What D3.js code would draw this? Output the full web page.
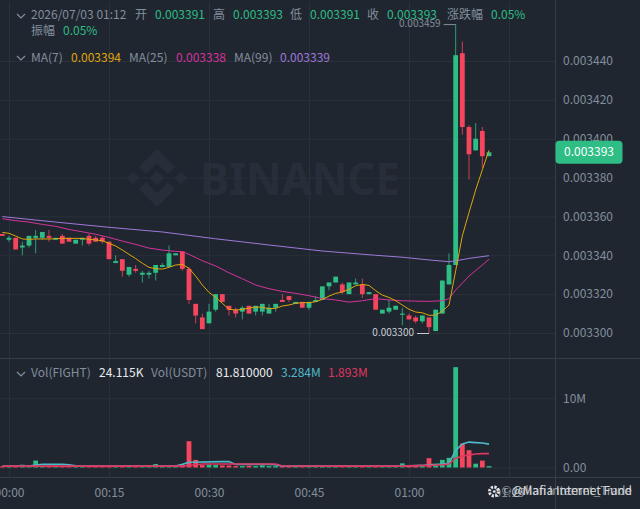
<!DOCTYPE html>
<html>
<head>
<meta charset="utf-8">
<script src="https://cdn.jsdelivr.net/npm/d3@7"></script>
<style>
  html, body { margin: 0; padding: 0; background: #1f2630; overflow: hidden; }
  svg { display: block; }
  text { font-family: "Noto Sans CJK SC", "Noto Sans", sans-serif; font-size: 12px; }
</style>
</head>
<body>
<div class="canvas"></div>
<script>
// one-minute candles, prices in millionths (3391 = 0.003391), first candle is 23:59
const open = [3351,3348,3349,3344,3345,3349,3349,3350,3348,3350,3349,3346,3348,3350,3349,3349,3347,3336,3338,3330,3333,3330,3330,3331,3334,3334,3340,3342,3333,3315,3308,3305,3312,3320,3314,3312,3311,3314,3311,3311,3310,3313,3317,3319,3315,3316,3313,3316,3317,3324,3326,3325,3320,3325,3325,3320,3320,3310,3311,3312,3310,3309,3308,3306,3308,3301,3310,3325,3335,3444,3406,3394,3404,3391];
const close = [3350,3349,3343,3345,3350,3350,3352,3349,3349,3346,3347,3348,3349,3346,3347,3347,3338,3337,3332,3334,3332,3331,3331,3335,3335,3341,3341,3333,3317,3309,3302,3311,3320,3316,3312,3310,3313,3310,3314,3315,3313,3315,3316,3317,3316,3313,3316,3317,3324,3326,3329,3321,3326,3326,3320,3321,3312,3312,3313,3314,3310,3307,3306,3309,3303,3312,3327,3335,3443,3406,3392,3400,3391,3393];
const high = [3351,3350,3349,3347,3350,3353,3352,3353,3349,3351,3349,3348,3349,3351,3350,3350,3347,3340,3338,3334,3335,3332,3332,3335,3336,3345,3341,3342,3334,3315,3310,3315,3320,3320,3314,3313,3314,3314,3314,3315,3315,3315,3320,3319,3316,3316,3316,3319,3324,3326,3329,3326,3326,3328,3328,3321,3320,3312,3317,3314,3313,3310,3309,3309,3308,3312,3327,3341,3459,3450,3407,3408,3406,3393];
const low = [3350,3347,3343,3340,3344,3341,3348,3347,3348,3346,3347,3346,3345,3345,3347,3346,3338,3336,3329,3329,3331,3326,3328,3327,3334,3334,3340,3332,3315,3305,3302,3305,3311,3316,3309,3308,3307,3310,3309,3309,3310,3311,3316,3316,3315,3313,3312,3316,3317,3322,3326,3320,3320,3325,3318,3320,3312,3310,3310,3312,3304,3307,3305,3305,3300,3301,3310,3325,3335,3402,3379,3394,3385,3391];

const ma7 = [3351.8,3351.3,3349.9,3348.4,3348.2,3348.4,3348.4,3348.4,3348.5,3348.7,3348.7,3348.7,3348.7,3348.2,3347.9,3347.5,3346.1,3344.8,3342.7,3340.5,3338.3,3335.9,3333.8,3333.1,3332.9,3333.8,3335,3335.3,3333.3,3329.3,3324.7,3320.9,3318.3,3315.3,3312.2,3311.8,3312.2,3312.8,3313.4,3313.2,3312.5,3312.7,3313.9,3314.4,3315.3,3315.6,3315.6,3316.1,3317.3,3319,3320.4,3321.1,3322.5,3324.3,3325,3324.5,3321.8,3319.5,3318.3,3316.6,3314.4,3312.2,3310.8,3310.4,3309.1,3309.2,3311.2,3314.4,3332,3350,3362,3373.6,3384,3394];

// the slower averages are smooth, read every couple of candles
const ma25Index = [0,2,4,6,8,10,12,14,16,18,20,22,24,26,27,28,30,32,34,36,38,40,42,44,46,48,50,52,54,56,58,60,62,64,66,67,68,70,72,73];
const ma25 = [3358.8,3357.8,3357.1,3355.9,3354.9,3353.3,3352.1,3350.8,3349.2,3347.3,3345.6,3343.7,3342.7,3342,3341.9,3340.5,3337.2,3334.5,3331,3327.9,3324.7,3322.8,3321.4,3320.4,3319.2,3317.7,3317,3315.9,3316.6,3317.7,3317,3316.6,3316.4,3316.3,3316.6,3317.7,3322.1,3329.3,3335,3338];
const ma99Index = [0,8,16,24,32,36,40,48,56,60,64,67,68,70,73];
const ma99 = [3359.9,3357.1,3354.4,3352,3348.5,3346.9,3345.3,3342.2,3340,3339,3337.6,3336.7,3337.1,3338.4,3339.8];

// volume in millions of USDT
const volume = [0.15,0.15,0.2,0.4,0.15,1.0,0.2,0.25,0.25,0.2,0.3,0.25,0.15,0.2,0.2,0.25,0.15,0.2,0.25,0.3,0.2,0.15,0.2,0.5,0.25,0.25,0.3,0.3,3.8,1.1,0.35,0.4,0.35,0.3,0.3,0.2,0.2,0.25,0.2,0.3,0.2,0.2,0.15,0.2,0.15,0.2,0.2,0.2,0.15,0.2,0.2,0.2,0.2,0.15,0.2,0.15,0.2,0.2,0.2,0.2,0.6,0.25,0.3,0.2,1.35,0.3,1.1,1.4,14.5,3.45,2.5,0.55,1.0,0.2];
const volFastIndex = [0,4,5,6,9,10,11,14,20,26,27,28,33,34,35,36,40,41,42,50,60,63,64,66,67,68,69,70,71,72,73];
const volFast = [0.2,0.2,0.35,0.45,0.45,0.4,0.25,0.2,0.2,0.2,0.45,0.75,0.85,0.85,0.45,0.45,0.45,0.4,0.2,0.2,0.2,0.3,0.4,0.5,0.6,2.45,3.4,3.67,3.6,3.55,3.38];
const volSlowIndex = [0,26,28,30,41,42,50,60,64,66,67,68,69,70,71,72,73];
const volSlow = [0.2,0.2,0.3,0.5,0.5,0.22,0.2,0.2,0.3,0.4,0.5,1.34,1.63,1.82,1.96,2,2];

const priceTicks = [3300,3320,3340,3360,3380,3400,3420,3440];
const volTicks = [0,10];
const volTickLabels = ['0.00','10M'];
const timeTicks = [0,15,30,45,60,75];
const timeLabels = ['00:00','00:15','00:30','00:45','01:00','01:15'];

const colors = { up: '#2ebd85', down: '#f6465d', grid: '#2a313b', line: '#363d47', text: '#848e9c',
    ma7: '#e0a50e', ma25: '#d5339a', ma99: '#9f78d8', volFast: '#4fb9c9', volSlow: '#e0355f', mark: '#272e39' };

const width = 640, height = 509;
const plotRight = 555, priceBottom = 358, timeTop = 477;
const fmt = v => d3.format('.6f')(v / 1e6);

const svg = d3.select('.canvas').append('svg')
    .attr('width', width)
    .attr('height', height);

const x = d3.scaleLinear().domain([0, 75]).range([9, 509]); // minutes after 00:00
const y = d3.scaleLinear().domain([3300, 3440]).range([333, 61]);
const yVol = d3.scaleLinear().domain([0, 10]).range([467.5, 398.3]);
const cx = i => x(i - 1);

// binance watermark, drawn under the grid
const mark = svg.append('g').attr('transform', 'translate(157,178)').attr('fill', colors.mark);
[
    '0,-29 18,-11 11,-4 0,-15 -11,-4 -18,-11',
    '0,29 18,11 11,4 0,15 -11,4 -18,11',
    '0,-7.5 7.5,0 0,7.5 -7.5,0',
    '-24,-6.5 -17.5,0 -24,6.5 -30.5,0',
    '24,-6.5 30.5,0 24,6.5 17.5,0'
].forEach(p => mark.append('polygon').attr('points', p));
svg.append('text').attr('x', 200).attr('y', 195)
    .attr('textLength', 200).attr('lengthAdjust', 'spacing')
    .style('font-family', '"Noto Sans", sans-serif').style('font-size', '44px').style('font-weight', 700)
    .attr('fill', colors.mark).text('BINANCE');

// grid comes from the axes, then the labels are moved to the right panel
const styleAxis = (g) => {
    g.select('.domain').remove();
    g.selectAll('line').attr('stroke', colors.grid).attr('stroke-width', 1);
    g.selectAll('text').attr('fill', colors.text).style('font-size', '12px');
};

svg.append('g').attr('transform', `translate(${plotRight},0)`)
    .call(d3.axisRight(y).tickValues(priceTicks).tickFormat(fmt).tickSize(-plotRight).tickPadding(8))
    .call(styleAxis)
    .selectAll('text').attr('x', 8);

svg.append('g').attr('transform', `translate(${plotRight},0)`)
    .call(d3.axisRight(yVol).tickValues(volTicks).tickFormat((d, i) => volTickLabels[i]).tickSize(-plotRight))
    .call(styleAxis)
    .selectAll('text').attr('x', 8);

svg.append('g').attr('transform', `translate(0,${timeTop})`)
    .call(d3.axisBottom(x).tickValues(timeTicks).tickFormat((d, i) => timeLabels[i]).tickSize(-(timeTop - 2)))
    .call(styleAxis)
    .selectAll('text').attr('y', 17).attr('dy', '0').attr('dominant-baseline', 'middle');

// panel borders
svg.append('line').attr('x1', plotRight + 0.5).attr('x2', plotRight + 0.5).attr('y1', 0).attr('y2', height).attr('stroke', colors.line);
[priceBottom, timeTop].forEach(v => {
    svg.append('line').attr('x1', 0).attr('x2', width).attr('y1', v + 0.5).attr('y2', v + 0.5).attr('stroke', colors.line);
});

// candles
const idx = d3.range(open.length);
const isUp = i => close[i] >= open[i];
const candleColor = i => isUp(i) ? colors.up : colors.down;
const candles = svg.append('g');

candles.selectAll('.wick').data(idx).join('line')
    .attr('class', 'wick')
    .attr('x1', cx).attr('x2', cx)
    .attr('y1', i => y(high[i])).attr('y2', i => y(low[i]))
    .attr('stroke', candleColor).attr('stroke-width', 1).attr('opacity', 0.8);

candles.selectAll('.body').data(idx).join('rect')
    .attr('class', 'body')
    .attr('x', i => cx(i) - 2.4).attr('width', 4.8)
    .attr('y', i => y(Math.max(open[i], close[i])))
    .attr('height', i => Math.max(1.2, Math.abs(y(open[i]) - y(close[i]))))
    .attr('fill', candleColor);

// moving averages
const drawLine = (xs, ys, yScale, color, w) => svg.append('path')
    .datum(xs.map((d, i) => [cx(d), yScale(ys[i])]))
    .attr('d', d3.line())
    .attr('fill', 'none').attr('stroke', color).attr('stroke-width', w);

drawLine(ma99Index, ma99, y, colors.ma99, 1);
drawLine(ma25Index, ma25, y, colors.ma25, 1);
drawLine(idx, ma7, y, colors.ma7, 1);

// volume bars
svg.append('g').selectAll('rect').data(idx).join('rect')
    .attr('x', i => cx(i) - 2.4).attr('width', 4.8)
    .attr('y', i => yVol(volume[i]))
    .attr('height', i => yVol(0) - yVol(volume[i]))
    .attr('fill', candleColor);

drawLine(volFastIndex, volFast, yVol, colors.volFast, 1.6);
drawLine(volSlowIndex, volSlow, yVol, colors.volSlow, 1.6);

// high and low labels
const extreme = (i, value, color) => {
    const ly = y(value);
    svg.append('line').attr('x1', cx(i) - 12).attr('x2', cx(i)).attr('y1', ly + 0.5).attr('y2', ly + 0.5).attr('stroke', color);
    svg.append('text').attr('x', cx(i) - 15).attr('y', ly).attr('dominant-baseline', 'middle')
        .attr('text-anchor', 'end').attr('fill', color).style('font-size', '10px').text(fmt(value));
};
extreme(68, d3.max(high), colors.text);
extreme(64, d3.min(low), '#c9ced6');

// last price tag
const last = close[close.length - 1];
svg.append('rect').attr('x', 555.5).attr('y', y(last) - 11.5).attr('width', 67).attr('height', 23).attr('rx', 4).attr('fill', colors.up);
svg.append('text').attr('x', 589).attr('y', y(last) + 0.5).attr('text-anchor', 'middle').attr('dominant-baseline', 'middle')
    .attr('fill', '#ffffff').text(fmt(last));

// legend rows
const chevron = (cy) => svg.append('path')
    .attr('d', `M17,${cy - 2}L21,${cy + 2}L25,${cy - 2}`)
    .attr('fill', 'none').attr('stroke', colors.text).attr('stroke-width', 1.2);
const legend = (cy, items) => items.forEach(d => {
    svg.append('text').attr('x', d[0]).attr('y', cy).attr('dominant-baseline', 'middle').attr('fill', d[2]).text(d[1]);
});

chevron(16);
legend(16, [
    [31, '2026/07/03 01:12', colors.text], [135, '开', colors.text], [155, fmt(open[73]), colors.up],
    [213, '高', colors.text], [233, fmt(high[73]), colors.up], [290, '低', colors.text], [310, fmt(low[73]), colors.up],
    [367, '收', colors.text], [387, fmt(close[73]), colors.up], [447, '涨跌幅', colors.text], [491, '0.05%', colors.up]
]);
legend(32, [[31, '振幅', colors.text], [63, '0.05%', colors.up]]);
chevron(58);
legend(58.5, [
    [31, 'MA(7)', colors.text], [71, '0.003394', colors.ma7], [129, 'MA(25)', colors.text],
    [176, '0.003338', colors.ma25], [234, 'MA(99)', colors.text], [280, '0.003339', colors.ma99]
]);
chevron(374);
legend(374, [
    [31, 'Vol(FIGHT)', colors.text], [99, '24.115K', '#eaecef'], [151, 'Vol(USDT)', colors.text],
    [216, '81.810000', '#eaecef'], [281, '3.284M', colors.volFast], [328, '1.893M', colors.volSlow]
]);

// two overlapping credits in the corner
const credit = svg.append('g').attr('fill', '#d8dadd').style('font-size', '12px');
credit.append('text').attr('x', 632).attr('y', 492).attr('text-anchor', 'end').attr('dominant-baseline', 'middle').style('font-size', '12px').text('@Mafia Internet Fund');
credit.append('text').attr('x', 632).attr('y', 492).attr('text-anchor', 'end').attr('dominant-baseline', 'middle').style('font-size', '12px').attr('opacity', 0.65).text('©Julian Internet_Trade');
credit.append('circle').attr('cx', 494).attr('cy', 491.5).attr('r', 4.5)
    .attr('fill', 'none').attr('stroke', '#e6e6e6').attr('stroke-width', 3).attr('stroke-dasharray', '2.2 1.3');
credit.append('circle').attr('cx', 494).attr('cy', 491.5).attr('r', 1.2).attr('fill', '#e6e6e6');
</script>
</body>
</html>
